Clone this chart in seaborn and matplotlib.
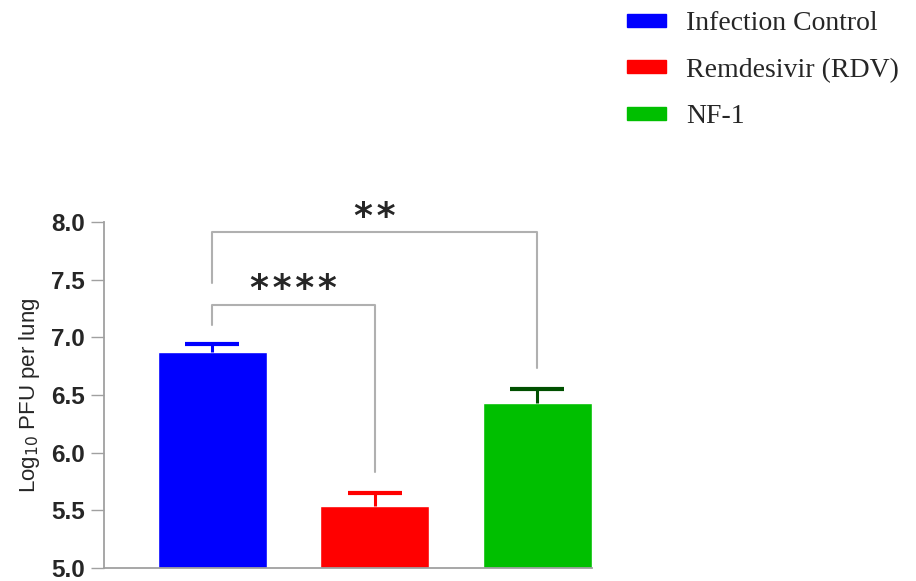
import numpy as np
import pandas as pd
import seaborn as sns
import matplotlib.pyplot as plt
from matplotlib.patches import Patch

# data
groups = ["Infection Control", "Remdesivir (RDV)", "NF-1"]
means = [6.87, 5.54, 6.43]
sem = [0.07, 0.11, 0.12]
colors = ["#0000FF", "#FF0000", "#00BF00"]
cap_colors = ["#0000FF", "#FF0000", "#005000"]

# significance brackets: (left group, right group, bar height, left leg end, right leg end, label)
brackets = [
    (0, 2, 7.91, 7.47, 6.73, "**"),
    (0, 1, 7.28, 7.11, 5.83, "****"),
]

df = pd.DataFrame({"group": groups, "mean": means})

sns.set_style("white")
fig = plt.figure(figsize=(9.16, 5.81), dpi=100)
ax = fig.add_axes([0.1135, 0.0224, 0.5325, 0.5955])

sns.barplot(data=df, x="group", y="mean", hue="group", palette=colors,
            width=0.67, legend=False, ax=ax, saturation=1)

# upper-only error bars: stem plus a cap at the top
for i, (m, e, c) in enumerate(zip(means, sem, cap_colors)):
    ax.errorbar(i, m, yerr=[[0], [e]], fmt="none", ecolor=c,
                elinewidth=2.2, capsize=0)
    ax.hlines(m + e, i - 0.165, i + 0.165, color=c, lw=3)

ax.set_ylim(5.0, 8.0)
ax.set_xlim(-0.665, 2.335)
ticks = np.arange(5.0, 8.01, 0.5)
ax.set_yticks(ticks)
ax.set_yticklabels([f"{v:.1f}" for v in ticks],
                   fontsize=17.5, fontweight="bold", family="Liberation Sans")
ax.set_xticks([])
ax.set_xlabel("")
ax.set_ylabel("Log$_{10}$ PFU per lung", fontsize=16, family="Liberation Sans",
              labelpad=7)
ax.tick_params(axis="y", length=9.5, width=1, color="#a0a0a0", left=True, pad=4)
for s in ["top", "right"]:
    ax.spines[s].set_visible(False)
for s in ["left", "bottom"]:
    ax.spines[s].set_color("#a0a0a0")
    ax.spines[s].set_linewidth(1.3)

# brackets
for x1, x2, h, l1, l2, lab in brackets:
    ax.plot([x1, x1, x2, x2], [l1, h, h, l2], color="#b0b0b0", lw=1.5,
            clip_on=False)
    ax.text((x1 + x2) / 2, h - 0.01, "\u200a".join(lab), ha="center",
            va="bottom", fontsize=26, fontweight="bold", clip_on=False,
            family="DejaVu Sans")

handles = [Patch(facecolor=c, edgecolor=c) for c in colors]
fig.legend(handles, groups, loc="upper left", bbox_to_anchor=(0.672, 1.0),
           frameon=False, prop={"family": "Liberation Serif", "size": 20},
           handlelength=1.4, handleheight=0.35, labelspacing=0.78,
           handletextpad=0.75, borderaxespad=0)

fig.savefig("out.png", dpi=100)
